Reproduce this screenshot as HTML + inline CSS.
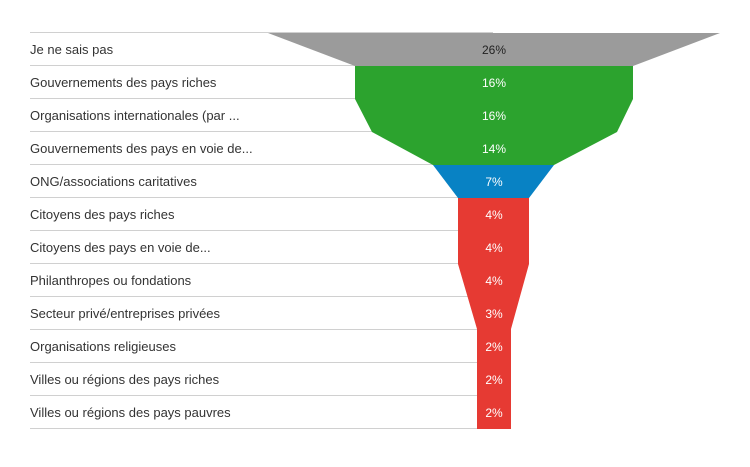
<!DOCTYPE html><html><head><style>body{margin:0;background:#fff}</style></head><body>
<svg width="750" height="462" xmlns="http://www.w3.org/2000/svg" font-family="Liberation Sans, sans-serif">
<g stroke="#d0d0d0" stroke-width="1">
<line x1="30" x2="493" y1="32.5" y2="32.5"/><line x1="30" x2="493" y1="65.5" y2="65.5"/><line x1="30" x2="493" y1="98.5" y2="98.5"/><line x1="30" x2="493" y1="131.5" y2="131.5"/><line x1="30" x2="493" y1="164.5" y2="164.5"/><line x1="30" x2="493" y1="197.5" y2="197.5"/><line x1="30" x2="493" y1="230.5" y2="230.5"/><line x1="30" x2="493" y1="263.5" y2="263.5"/><line x1="30" x2="493" y1="296.5" y2="296.5"/><line x1="30" x2="493" y1="329.5" y2="329.5"/><line x1="30" x2="493" y1="362.5" y2="362.5"/><line x1="30" x2="493" y1="395.5" y2="395.5"/><line x1="30" x2="493" y1="428.5" y2="428.5"/>
</g>
<polygon fill="#9b9b9b" points="268,33 720,33 633,66 355,66"/>
<polygon fill="#2ca32e" points="355,66 633,66 633,99 617,132 554,165 433,165 372,132 355,99"/>
<polygon fill="#0882c4" points="433,165 554,165 529,198 458,198"/>
<polygon fill="#e63a33" points="458,198 529,198 529,264 511,329 511,429 477,429 477,329 458,264"/>
<g font-size="13" fill="#333">
<text x="30" y="54">Je ne sais pas</text><text x="30" y="87">Gouvernements des pays riches</text><text x="30" y="120">Organisations internationales (par ...</text><text x="30" y="153">Gouvernements des pays en voie de...</text><text x="30" y="186">ONG/associations caritatives</text><text x="30" y="219">Citoyens des pays riches</text><text x="30" y="252">Citoyens des pays en voie de...</text><text x="30" y="285">Philanthropes ou fondations</text><text x="30" y="318">Secteur privé/entreprises privées</text><text x="30" y="351">Organisations religieuses</text><text x="30" y="384">Villes ou régions des pays riches</text><text x="30" y="417">Villes ou régions des pays pauvres</text>
</g>
<g font-size="12" fill="#fff" text-anchor="middle">
<text x="494" y="54" fill="#222">26%</text><text x="494" y="87">16%</text><text x="494" y="120">16%</text><text x="494" y="153">14%</text><text x="494" y="186">7%</text><text x="494" y="219">4%</text><text x="494" y="252">4%</text><text x="494" y="285">4%</text><text x="494" y="318">3%</text><text x="494" y="351">2%</text><text x="494" y="384">2%</text><text x="494" y="417">2%</text>
</g>
</svg></body></html>
